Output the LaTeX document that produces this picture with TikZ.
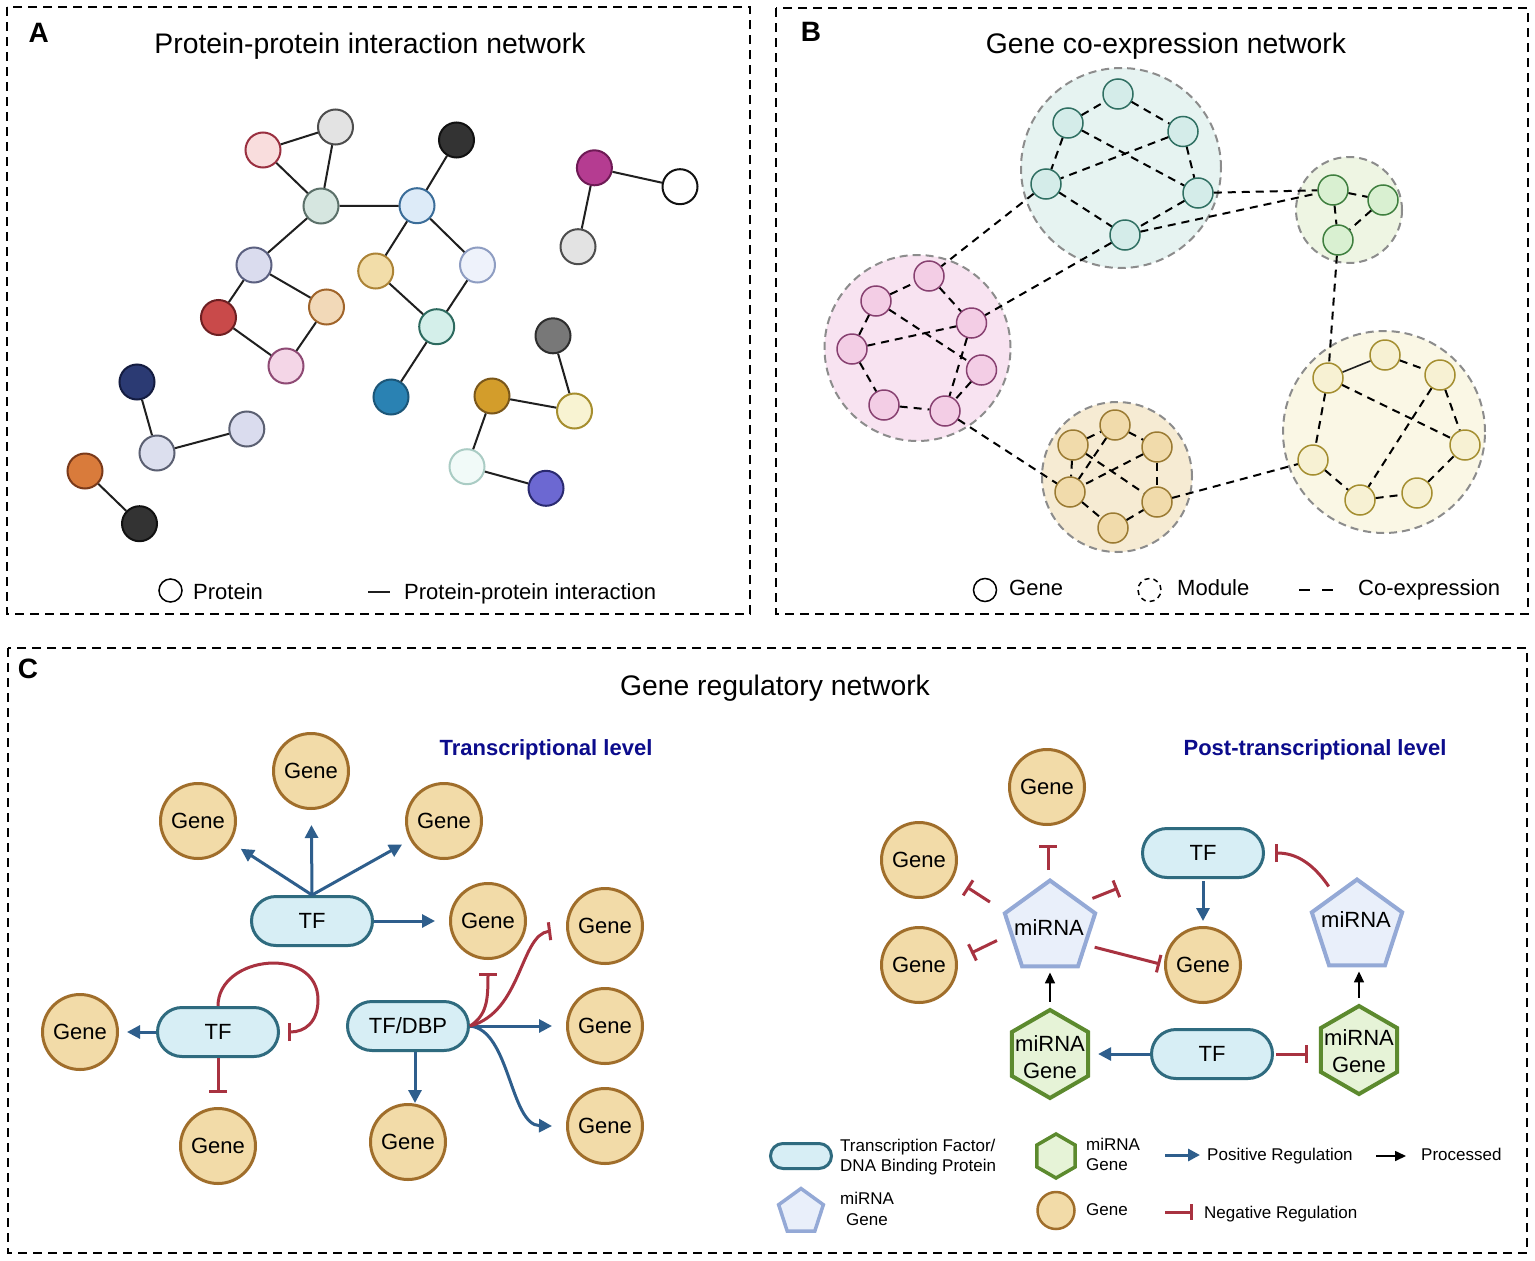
\documentclass[tikz,border=0pt]{standalone}
\usepackage{fontspec}
\setmainfont{Liberation Sans}
\usetikzlibrary{arrows.meta,shapes.geometric}
% panel A colours
\definecolor{a1d}{HTML}{9A3040}\definecolor{a1f}{HTML}{F9DDDD}
\definecolor{a2d}{HTML}{4D4D4D}\definecolor{a2f}{HTML}{E3E3E3}
\definecolor{a3d}{HTML}{111111}\definecolor{a3f}{HTML}{333333}
\definecolor{a4d}{HTML}{5B7069}\definecolor{a4f}{HTML}{D6E6E0}
\definecolor{a5d}{HTML}{3B6D99}\definecolor{a5f}{HTML}{DDEBF8}
\definecolor{a6d}{HTML}{6E1A55}\definecolor{a6f}{HTML}{B53C91}
\definecolor{a7d}{HTML}{111111}\definecolor{a7f}{HTML}{FFFFFF}
\definecolor{a9d}{HTML}{5B6080}\definecolor{a9f}{HTML}{DADCEE}
\definecolor{a10d}{HTML}{AC8336}\definecolor{a10f}{HTML}{F2DDA9}
\definecolor{a11d}{HTML}{8E9DC2}\definecolor{a11f}{HTML}{EEF2FB}
\definecolor{a12d}{HTML}{6E1F22}\definecolor{a12f}{HTML}{C94A4A}
\definecolor{a13d}{HTML}{A0642A}\definecolor{a13f}{HTML}{F2D9B8}
\definecolor{a14d}{HTML}{2D6A5F}\definecolor{a14f}{HTML}{D4EFEA}
\definecolor{a15d}{HTML}{8E4A74}\definecolor{a15f}{HTML}{F4D6E7}
\definecolor{a16d}{HTML}{1C5678}\definecolor{a16f}{HTML}{2A82B3}
\definecolor{a17d}{HTML}{2E2E2E}\definecolor{a17f}{HTML}{787878}
\definecolor{a18d}{HTML}{141C40}\definecolor{a18f}{HTML}{2B3A73}
\definecolor{a19d}{HTML}{7A571A}\definecolor{a19f}{HTML}{D39D2B}
\definecolor{a20d}{HTML}{A68E2E}\definecolor{a20f}{HTML}{F8F3D2}
\definecolor{a21d}{HTML}{5B6072}\definecolor{a21f}{HTML}{DCDFEE}
\definecolor{a23d}{HTML}{7A3A1A}\definecolor{a23f}{HTML}{D97B3B}
\definecolor{a25d}{HTML}{AACCC4}\definecolor{a25f}{HTML}{F1FAF8}
\definecolor{a26d}{HTML}{2A2A70}\definecolor{a26f}{HTML}{6C68D2}
% panel B colours
\definecolor{mtf}{HTML}{E6F3F1}\definecolor{ttf}{HTML}{D4ECE9}\definecolor{ttd}{HTML}{2F6F62}
\definecolor{mpf}{HTML}{F8E3F1}\definecolor{ppf}{HTML}{F3CDE5}\definecolor{ppd}{HTML}{874070}
\definecolor{mof}{HTML}{F6EBD3}\definecolor{oof}{HTML}{F1DBAB}\definecolor{ood}{HTML}{9A7A32}
\definecolor{mgf}{HTML}{EEF5E3}\definecolor{ggf}{HTML}{D9F0D1}\definecolor{ggd}{HTML}{3F7F3F}
\definecolor{myf}{HTML}{FAF7E5}\definecolor{yyf}{HTML}{F7F1D3}\definecolor{yyd}{HTML}{A48E30}
\definecolor{modd}{HTML}{8C8C8C}
% panel C colours
\definecolor{cblue}{HTML}{2E5E8C}
\definecolor{cred}{HTML}{A83240}
\definecolor{tff}{HTML}{D7EEF5}\definecolor{tfd}{HTML}{2F6B7F}
\definecolor{gnf}{HTML}{F2DBA8}\definecolor{gnd}{HTML}{A06E2B}
\definecolor{mirf}{HTML}{E9EFFA}\definecolor{mird}{HTML}{94A9D6}
\definecolor{hxf}{HTML}{E6F3D7}\definecolor{hxd}{HTML}{5C8A2E}
\definecolor{navyc}{HTML}{0C0C8C}
\begin{document}
\begin{tikzpicture}[x=1pt,y=-1pt,
  frame/.style={draw=black, line width=2pt, dash pattern=on 9pt off 6pt},
  pnode/.style 2 args={circle, minimum size=35pt, inner sep=0pt, line width=2pt, draw=#1, fill=#2},
  pe/.style={draw=black!88, line width=2pt},
  module/.style={circle, inner sep=0pt, draw=modd, line width=2pt, dash pattern=on 8pt off 5pt},
  bnode/.style 2 args={circle, minimum size=30pt, inner sep=0pt, line width=1.5pt, draw=#1, fill=#2},
  be/.style={draw=black, line width=2pt, dash pattern=on 8pt off 6pt},
  ttl/.style={inner sep=0pt, anchor=base, font=\fontsize{28.3}{32}\selectfont},
  plab/.style={inner sep=0pt, anchor=base, font=\fontsize{28}{32}\selectfont\bfseries},
  leg/.style={inner sep=0pt, anchor=base west, font=\fontsize{22}{26}\selectfont},
  sleg/.style={inner sep=0pt, anchor=base west, font=\fontsize{17}{20}\selectfont},
  lvl/.style={inner sep=0pt, anchor=base, text=navyc, font=\fontsize{22}{26}\selectfont\bfseries},
  gene/.style={circle, draw=gnd, fill=gnf, line width=3pt, minimum size=75pt, inner sep=0pt, font=\fontsize{22}{26}\selectfont},
  tfbox/.style={rectangle, rounded corners=24.5pt, draw=tfd, fill=tff, line width=3pt, minimum width=121pt, minimum height=49pt, inner sep=0pt, font=\fontsize{22}{26}\selectfont},
  mir/.style={regular polygon, regular polygon sides=5, draw=mird, fill=mirf, line width=4pt, minimum size=95pt, inner sep=0pt},
  hexa/.style={regular polygon, regular polygon sides=6, shape border rotate=30, draw=hxd, fill=hxf, line width=4pt, minimum size=88pt, inner sep=0pt},
  lbl/.style={inner sep=0pt, align=center, font=\fontsize{22}{26.5}\selectfont},
  posarr/.style={draw=cblue, line width=3pt, -{Triangle[length=13pt,width=13pt]}},
  negarr/.style={draw=cred, line width=3pt, -{Bar[width=18pt]}},
  procarr/.style={draw=black, line width=1.6pt, -{Triangle[length=11pt,width=10pt]}}
]
\fill[white] (0,0) rectangle (1535,1261);
\useasboundingbox (0,0) rectangle (1535,1261);

% ---------------- frames
\draw[frame] (7,7) rectangle (750,614);
\draw[frame] (776,8) rectangle (1528,614);
\draw[frame] (8,648) rectangle (1527,1253);

% ---------------- Panel A
\node[plab] (labA) at (38.7,42) {A};
\node[ttl] (ttlA) at (370,53) {Protein-protein interaction network};

\node[pnode={a1d}{a1f}] (a1) at (263,150) {};
\node[pnode={a2d}{a2f}] (a2) at (335.5,127) {};
\node[pnode={a3d}{a3f}] (a3) at (456.5,140) {};
\node[pnode={a4d}{a4f}] (a4) at (321,206) {};
\node[pnode={a5d}{a5f}] (a5) at (417,205.7) {};
\node[pnode={a6d}{a6f}] (a6) at (594.4,167.8) {};
\node[pnode={a7d}{a7f}] (a7) at (680,186.7) {};
\node[pnode={a2d}{a2f}] (a8) at (578,246.7) {};
\node[pnode={a9d}{a9f}] (a9) at (254,265) {};
\node[pnode={a10d}{a10f}] (a10) at (375.7,271) {};
\node[pnode={a11d}{a11f}] (a11) at (477.5,265) {};
\node[pnode={a12d}{a12f}] (a12) at (218.5,317.5) {};
\node[pnode={a13d}{a13f}] (a13) at (326.5,307) {};
\node[pnode={a14d}{a14f}] (a14) at (436.7,326.7) {};
\node[pnode={a15d}{a15f}] (a15) at (286,366) {};
\node[pnode={a16d}{a16f}] (a16) at (391,397) {};
\node[pnode={a17d}{a17f}] (a17) at (553,335.8) {};
\node[pnode={a18d}{a18f}] (a18) at (137,382) {};
\node[pnode={a19d}{a19f}] (a19) at (492,396) {};
\node[pnode={a20d}{a20f}] (a20) at (574.5,411) {};
\node[pnode={a21d}{a21f}] (a21) at (157,453) {};
\node[pnode={a21d}{a9f}] (a22) at (246.8,429) {};
\node[pnode={a23d}{a23f}] (a23) at (85,471) {};
\node[pnode={a3d}{a3f}] (a24) at (139.5,523.7) {};
\node[pnode={a25d}{a25f}] (a25) at (467,466.7) {};
\node[pnode={a26d}{a26f}] (a26) at (546,488.3) {};

\foreach \u/\v in {a1/a2,a1/a4,a2/a4,a4/a5,a5/a3,a4/a9,a9/a12,a9/a13,a12/a15,a13/a15,
  a5/a10,a5/a11,a10/a14,a11/a14,a14/a16,a6/a7,a6/a8,a17/a20,a19/a20,a19/a25,a25/a26,
  a18/a21,a21/a22,a23/a24}
  \draw[pe] (\u) -- (\v);

% legend A
\node[circle, draw=black, line width=1.5pt, minimum size=23pt, inner sep=0pt] (lap) at (170.5,590.5) {};
\node[leg] (lapt) at (193,599) {Protein};
\coordinate (lai1) at (368,591.5);
\coordinate (lai2) at (390,591.5);
\draw[pe] (lai1) -- (lai2);
\node[leg] (lait) at (404,599) {Protein-protein interaction};

% ---------------- Panel B
\node[plab] (labB) at (811,41) {B};
\node[ttl] (ttlB) at (1166,53) {Gene co-expression network};

\node[module, fill=mtf, minimum size=200pt] (m1) at (1121,168) {};
\node[module, fill=mpf, minimum size=186pt] (m2) at (917.5,348) {};
\node[module, fill=mof, minimum size=150pt] (m3) at (1117,477) {};
\node[module, fill=mgf, minimum size=106pt] (m4) at (1349,210) {};
\node[module, fill=myf, minimum size=202pt] (m5) at (1384,432) {};

% teal
\node[bnode={ttd}{ttf}] (t1) at (1118,94) {};
\node[bnode={ttd}{ttf}] (t2) at (1068,123) {};
\node[bnode={ttd}{ttf}] (t3) at (1183,131.5) {};
\node[bnode={ttd}{ttf}] (t4) at (1046,184) {};
\node[bnode={ttd}{ttf}] (t5) at (1198,193) {};
\node[bnode={ttd}{ttf}] (t6) at (1125,235) {};
% pink
\node[bnode={ppd}{ppf}] (p1) at (929,276) {};
\node[bnode={ppd}{ppf}] (p2) at (876,301) {};
\node[bnode={ppd}{ppf}] (p3) at (971.5,323) {};
\node[bnode={ppd}{ppf}] (p4) at (852,349) {};
\node[bnode={ppd}{ppf}] (p5) at (981.5,370) {};
\node[bnode={ppd}{ppf}] (p6) at (884,405) {};
\node[bnode={ppd}{ppf}] (p7) at (945,411) {};
% orange
\node[bnode={ood}{oof}] (o1) at (1115,425) {};
\node[bnode={ood}{oof}] (o2) at (1073,445) {};
\node[bnode={ood}{oof}] (o3) at (1157,447) {};
\node[bnode={ood}{oof}] (o4) at (1070,492) {};
\node[bnode={ood}{oof}] (o5) at (1157,502) {};
\node[bnode={ood}{oof}] (o6) at (1113,528) {};
% green
\node[bnode={ggd}{ggf}] (q1) at (1333,190) {};
\node[bnode={ggd}{ggf}] (q2) at (1383,200) {};
\node[bnode={ggd}{ggf}] (q3) at (1338,240) {};
% yellow
\node[bnode={yyd}{yyf}] (y1) at (1385,355) {};
\node[bnode={yyd}{yyf}] (y2) at (1328,378) {};
\node[bnode={yyd}{yyf}] (y3) at (1440,375) {};
\node[bnode={yyd}{yyf}] (y4) at (1465,445) {};
\node[bnode={yyd}{yyf}] (y5) at (1313,460) {};
\node[bnode={yyd}{yyf}] (y6) at (1360,500) {};
\node[bnode={yyd}{yyf}] (y7) at (1417,493) {};

\foreach \u/\v in {t2/t1,t1/t3,t2/t4,t2/t5,t3/t4,t3/t5,t4/t6,t5/t6,
  p2/p1,p2/p4,p2/p5,p1/p3,p4/p3,p3/p7,p5/p7,p4/p6,p6/p7,
  o2/o1,o1/o3,o2/o4,o3/o5,o2/o5,o1/o4,o3/o4,o4/o6,o6/o5,
  q1/q2,q1/q3,q2/q3,
  y1/y3,y2/y4,y3/y6,y3/y4,y2/y5,y5/y6,y6/y7,y7/y4,
  t4/p1,t6/p3,t5/q1,t6/q1,q3/y2,p7/o4,o5/y5}
  \draw[be] (\u) -- (\v);
\draw[pe, line width=1.6pt] (y2) -- (y1);

% legend B
\node[circle, draw=black, line width=1.5pt, minimum size=23pt, inner sep=0pt] (lbg) at (985,590) {};
\node[leg] (lbgt) at (1009,595) {Gene};
\node[circle, draw=black, line width=1.5pt, dash pattern=on 5pt off 4pt, minimum size=23pt, inner sep=0pt] (lbm) at (1149.5,590) {};
\node[leg] (lbmt) at (1177,595) {Module};
\coordinate (lbc1) at (1299,590);
\coordinate (lbc2) at (1333,590);
\draw[draw=black, line width=2pt, dash pattern=on 11pt off 12pt] (lbc1) -- (lbc2);
\node[leg] (lbct) at (1358,595) {Co-expression};

% ---------------- Panel C
\node[plab] (labC) at (28,678) {C};
\node[ttl] (ttlC) at (775,695) {Gene regulatory network};
\node[lvl] (lvl1) at (546,755) {Transcriptional level};
\node[lvl] (lvl2) at (1315,755) {Post-transcriptional level};

% transcriptional level
\node[gene] (c1) at (198,821) {Gene};
\node[gene] (c2) at (311,771) {Gene};
\node[gene] (c3) at (444,821) {Gene};
\node[gene] (c4) at (488,921) {Gene};
\node[gene] (c5) at (605,926) {Gene};
\node[gene] (c6) at (80,1032) {Gene};
\node[gene] (c7) at (605,1026) {Gene};
\node[gene] (c8) at (218,1146) {Gene};
\node[gene] (c9) at (408,1142) {Gene};
\node[gene] (c10) at (605,1126) {Gene};
\node[tfbox] (tf1) at (312,921) {TF};
\node[tfbox] (tf2) at (218,1032) {TF};
\node[tfbox] (tfd) at (408,1026) {TF/DBP};

\draw[posarr, shorten >=12pt] (tf1.north) -- (c1);
\draw[posarr, shorten >=15pt] (tf1.north) -- (c2);
\draw[posarr, shorten >=9pt] (tf1.north) -- (c3);
\draw[posarr, shorten >=14pt] (tf1.east) -- (c4);
\draw[posarr, shorten >=8pt] (tf2.west) -- (c6);
\draw[negarr, shorten >=14pt] (tf2.south) -- (c8);
\draw[negarr] (tf2.north) .. controls (218,955) and (318,945) .. (318,1000)
   .. controls (318,1022) and (305,1032) .. ([xshift=8pt]tf2.east);
\draw[posarr] ([xshift=7pt]tfd.south) -- ([xshift=7pt]tfd.south |- c9.north);
\draw[posarr, shorten >=14pt] (tfd.east) -- (c7);
\draw[posarr] (tfd.east) .. controls (510,1030) and (510,1125) .. ([xshift=-14pt]c10.west);
\draw[negarr] (tfd.east) .. controls (522,1012) and (520,935) .. ([xshift=-15pt,yshift=-5pt]c5.west);
\draw[negarr] (tfd.east) .. controls (487,1015) and (488,1000) .. ([yshift=-13pt]c4.south);

% post-transcriptional level
\node[gene] (r1) at (1047,787) {Gene};
\node[gene] (r2) at (919,860) {Gene};
\node[gene] (r3) at (919,965) {Gene};
\node[gene] (r4) at (1203,965) {Gene};
\node[mir] (mir1) at (1050,928) {};
\node[lbl] (mir1t) at (1049,928) {miRNA};
\node[mir] (mir2) at (1357,927) {};
\node[lbl] (mir2t) at (1356,919.5) {miRNA};
\node[tfbox] (tf3) at (1203,853) {TF};
\node[tfbox] (tf4) at (1212,1054) {TF};
\node[hexa] (hx1) at (1050,1054) {};
\node[lbl] (hx1t) at (1050,1057) {miRNA\\Gene};
\node[hexa] (hx2) at (1359,1050) {};
\node[lbl] (hx2t) at (1359,1051) {miRNA\\Gene};

\draw[negarr, shorten <=8pt, shorten >=19pt] ([xshift=-2pt]mir1.90) -- ([xshift=-2pt]mir1.90 |- r1.south);
\draw[negarr, shorten <=17pt, shorten >=16pt] (mir1.160) -- (r2.-28);
\draw[negarr, shorten <=14pt, shorten >=15pt] (mir1.189) -- (r3.8);
\draw[negarr, shorten <=10pt, shorten >=25pt] (mir1.38) -- (tf3.south west);
\draw[negarr, shorten <=8pt, shorten >=4pt] (mir1.-25) -- (r4.west);
\draw[posarr, shorten <=2pt, shorten >=5pt] (tf3.south) -- (r4.north);
\draw[negarr, shorten <=9pt, shorten >=10pt] (mir2.125) .. controls (1312,862) and (1295,853) .. (tf3.east);
\draw[procarr, shorten <=6pt, shorten >=4pt] (hx1.90) -- (hx1.90 |- mir1.-90);
\draw[procarr, shorten <=6pt, shorten >=4pt] (hx2.90) -- (hx2.90 |- mir2.-90);
\draw[posarr, shorten >=8pt] (tf4.west) -- (tf4.west -| hx1.0);
\draw[negarr, shorten <=2pt, shorten >=11pt] (tf4.east) -- (tf4.east -| hx2.180);

% legend C
\node[tfbox, minimum width=61pt, minimum height=25pt, rounded corners=12.5pt] (lgtf) at (801,1156) {};
\node[sleg] (lgtf1) at (840,1151) {Transcription Factor/};
\node[sleg] (lgtf2) at (840,1171) {DNA Binding Protein};
\node[mir, minimum size=47pt, line width=3.5pt] (lgmir) at (801,1212) {};
\node[sleg, anchor=base] (lgmir1) at (867,1204) {miRNA};
\node[sleg, anchor=base] (lgmir2) at (867,1225) {Gene};
\node[hexa, minimum size=44pt, line width=3.5pt] (lghx) at (1056,1156) {};
\node[sleg] (lghx1) at (1086,1150) {miRNA};
\node[sleg] (lghx2) at (1086,1170) {Gene};
\node[gene, minimum size=37pt, line width=2.5pt] (lggn) at (1056,1210.5) {};
\node[sleg] (lggnt) at (1086,1215) {Gene};
\coordinate (lp1) at (1165,1155);
\coordinate (lp2) at (1200,1155);
\draw[posarr, -{Triangle[length=12pt,width=12pt]}] (lp1) -- (lp2);
\node[sleg] (lpt) at (1207,1160) {Positive Regulation};
\coordinate (lr1) at (1376,1156);
\coordinate (lr2) at (1406,1156);
\draw[procarr] (lr1) -- (lr2);
\node[sleg] (lrt) at (1421,1160) {Processed};
\coordinate (ln1) at (1165,1212);
\coordinate (ln2) at (1193,1212);
\draw[negarr, -{Bar[width=16pt]}] (ln1) -- (ln2);
\node[sleg] (lnt) at (1204,1218) {Negative Regulation};
\end{tikzpicture}
\end{document}
